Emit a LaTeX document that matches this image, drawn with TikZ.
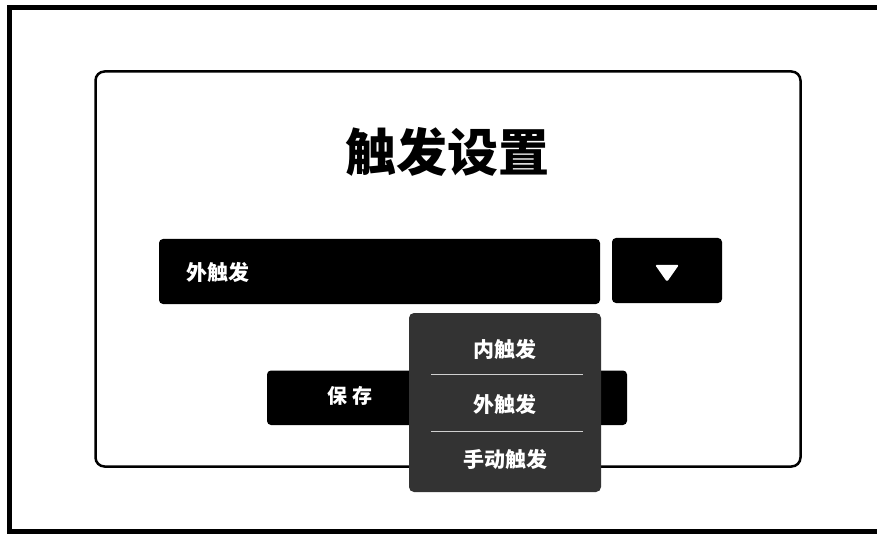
\documentclass[tikz,border=0pt]{standalone}
\usepackage{fontspec}
\newfontfamily\cjk{Noto Sans CJK SC}
\usetikzlibrary{shapes.geometric}
\definecolor{menugray}{HTML}{333333}
\definecolor{sepgray}{HTML}{D0D0D0}
\tikzset{
  blackbox/.style={fill=black, rounded corners=4pt},
  wtext/.style={text=white, font=\cjk\bfseries\fontsize{21}{24}\selectfont, inner sep=0pt},
  seprule/.style={draw=sepgray, line width=1pt},
}
\begin{document}
\begin{tikzpicture}[x=1pt,y=-1pt]
\useasboundingbox[fill=white] (0,0) rectangle (877,534);
% outer frame (open on the right)
\draw[line width=5pt] (877,7.5) -- (9.5,7.5) -- (9.5,531) -- (877,531);
% panel
\draw[line width=2.5pt, rounded corners=9pt] (95.5,71.5) rectangle (800.5,466.5);
\node[font=\cjk\bfseries\fontsize{51}{56}\selectfont, inner sep=0pt] (title) at (447,152) {触发设置};
% dropdown field
\fill[blackbox] (159,239) rectangle (600,304);
\coordinate (fieldtxt) at (186,272);
\node[wtext, anchor=west] (field) at (fieldtxt) {外触发};
% dropdown button
\fill[blackbox] (612,238) rectangle (722,303);
\node[fill=white, isosceles triangle, isosceles triangle apex angle=70, shape border rotate=-90, inner sep=0pt, minimum width=24pt, minimum height=17pt, rounded corners=1.5pt] (arrow) at (667,271) {};
% save button
\fill[blackbox] (267,370.5) rectangle (627,425);
\node[wtext, font=\cjk\bfseries\fontsize{20}{24}\selectfont] (save) at (350,396) {保 存};
% menu
\fill[menugray, rounded corners=5pt] (409,313) rectangle (601,492);
\node[wtext] (opt1) at (505,349) {内触发};
\node[wtext] (opt2) at (505,404) {外触发};
\node[wtext] (opt3) at (505,459) {手动触发};
\coordinate (s1a) at (431,374.5); \coordinate (s1b) at (583,374.5);
\coordinate (s2a) at (431,431); \coordinate (s2b) at (583,431);
\draw[seprule] (s1a) -- (s1b);
\draw[seprule] (s2a) -- (s2b);
\end{tikzpicture}
\end{document}
